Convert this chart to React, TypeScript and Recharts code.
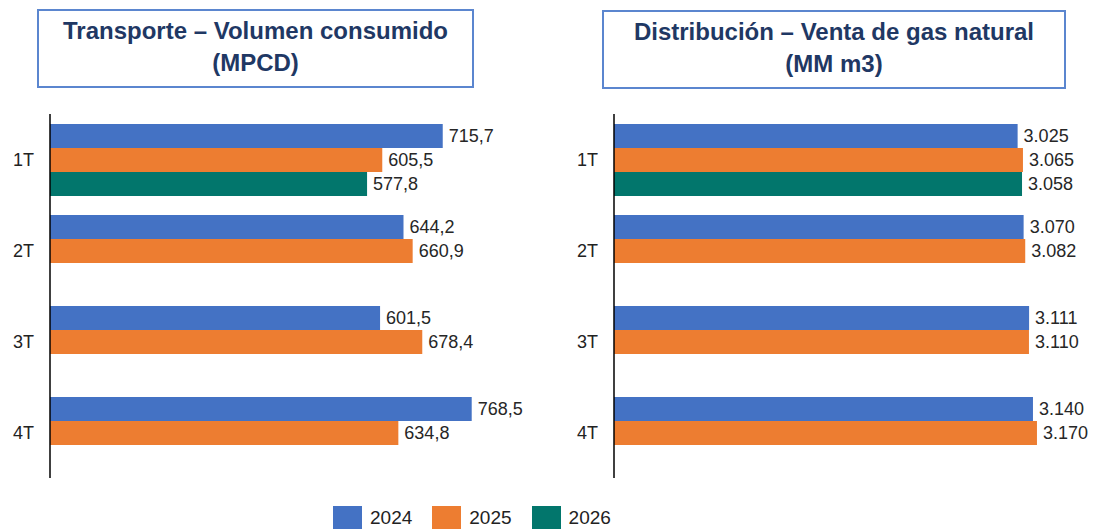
import { Bar, BarChart, LabelList, XAxis, YAxis } from "recharts";

const categories = ["1T", "2T", "3T", "4T"];
const years = ["2024", "2025", "2026"];
const colors = ["#4472C4", "#ED7D31", "#02766C"];

// Transporte – Volumen consumido (MPCD)
const transporte2024 = [715.7, 644.2, 601.5, 768.5];
const transporte2025 = [605.5, 660.9, 678.4, 634.8];
const transporte2026 = [577.8, null, null, null];

// Distribución – Venta de gas natural (MM m3)
const distribucion2024 = [3025, 3070, 3111, 3140];
const distribucion2025 = [3065, 3082, 3110, 3170];
const distribucion2026 = [3058, null, null, null];

const font = "'Liberation Sans', Arial, sans-serif";

const buildRows = (series: (number | null)[][]) =>
  categories.map((cat, i) => {
    const row: { [key: string]: string | number | null } = { cat };
    years.forEach((y, j) => (row[y] = series[j][i]));
    return row;
  });

const fmtDecimal = (v: any) => (v == null ? "" : Number(v).toFixed(1).replace(".", ","));
const fmtThousands = (v: any) => {
  if (v == null) return "";
  const n = Math.round(Number(v));
  return Math.floor(n / 1000) + "." + String(n % 1000).padStart(3, "0");
};

const TitleBox: React.FC<{ left: number; top: number; width: number; lines: string[] }> = ({ left, top, width, lines }) => (
  <div
    style={{
      position: "absolute",
      left,
      top,
      width,
      height: 79,
      boxSizing: "border-box",
      border: "2px solid #5B86CF",
      display: "flex",
      flexDirection: "column",
      justifyContent: "center",
      alignItems: "center",
      paddingBottom: 4,
      color: "#1F3864",
      fontWeight: 700,
      fontSize: 24,
      lineHeight: "32px",
    }}
  >
    {lines.map((l) => (
      <div key={l}>{l}</div>
    ))}
  </div>
);

const Panel: React.FC<{
  left: number;
  width: number;
  rows: any[];
  domain: [number, number];
  marginRight: number;
  formatter: (v: any) => string;
}> = ({ left, width, rows, domain, marginRight, formatter }) => (
  <div style={{ position: "absolute", left, top: 0 }}>
    <BarChart
      width={width}
      height={500}
      data={rows}
      layout="vertical"
      margin={{ top: 114, right: marginRight, bottom: 22, left: 0 }}
      barCategoryGap={10}
      barGap={0}
    >
      <XAxis type="number" domain={domain} hide />
      <YAxis
        type="category"
        dataKey="cat"
        width={50}
        tickLine={false}
        tickMargin={10}
        axisLine={{ stroke: "#000", strokeWidth: 1.5 }}
        tick={{ fontSize: 18, fill: "#222", fontFamily: font }}
      />
      {years.map((y, j) => (
        <Bar key={y} dataKey={y} fill={colors[j]} isAnimationActive={false}>
          <LabelList
            dataKey={y}
            position="right"
            offset={6}
            formatter={formatter}
            style={{ fontSize: 18, fill: "#262626", fontFamily: font }}
          />
        </Bar>
      ))}
    </BarChart>
  </div>
);

export default function App() {
  const transporteRows = buildRows([transporte2024, transporte2025, transporte2026]);
  const distribucionRows = buildRows([distribucion2024, distribucion2025, distribucion2026]);

  return (
    <div
      style={{
        position: "absolute",
        left: 0,
        top: 0,
        width: 1099,
        height: 529,
        overflow: "hidden",
        background: "#fff",
        fontFamily: font,
      }}
    >
      <TitleBox left={37} top={9} width={437} lines={["Transporte – Volumen consumido", "(MPCD)"]} />
      <TitleBox left={602} top={10} width={464} lines={["Distribución – Venta de gas natural", "(MM m3)"]} />
      <Panel left={0} width={560} rows={transporteRows} domain={[0, 800]} marginRight={71} formatter={fmtDecimal} />
      <Panel left={564} width={535} rows={distribucionRows} domain={[0, 3500]} marginRight={18} formatter={fmtThousands} />
      <div
        style={{
          position: "absolute",
          left: 333,
          top: 506,
          display: "flex",
          alignItems: "center",
          fontSize: 19,
          color: "#222",
        }}
      >
        {years.map((y, j) => (
          <div key={y} style={{ display: "flex", alignItems: "center", marginRight: 20 }}>
            <div style={{ width: 29, height: 24, background: colors[j], marginRight: 8 }} />
            <span>{y}</span>
          </div>
        ))}
      </div>
    </div>
  );
}
